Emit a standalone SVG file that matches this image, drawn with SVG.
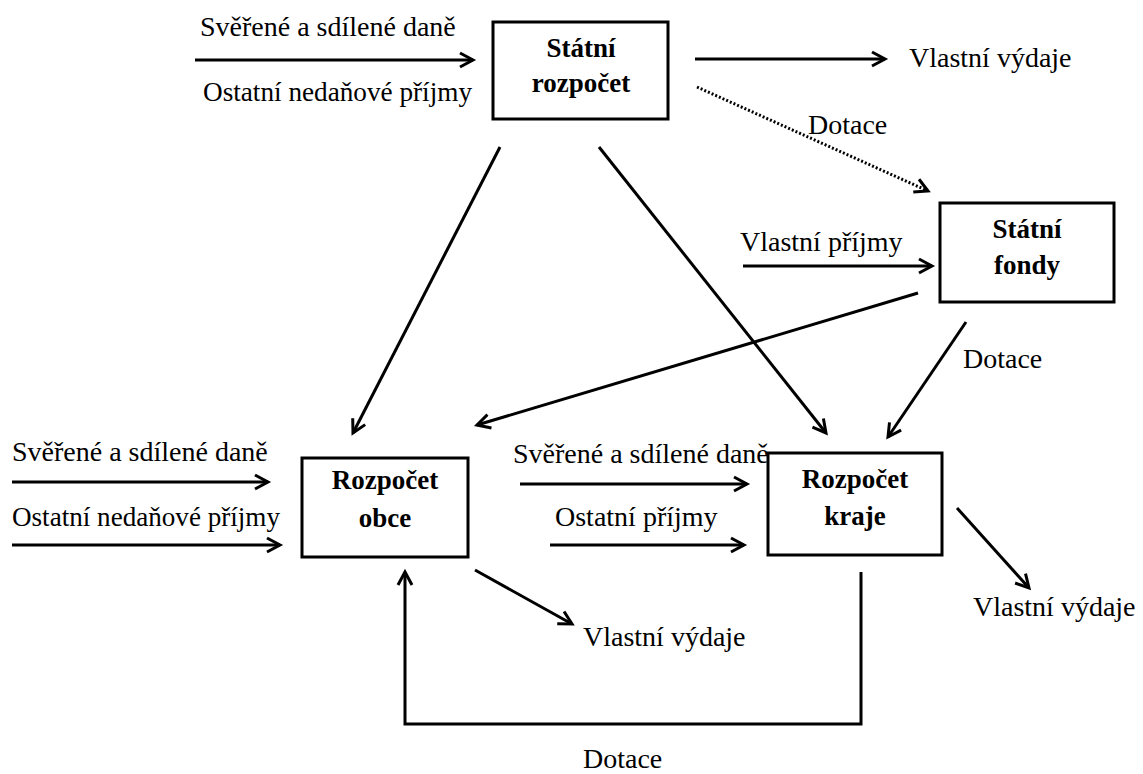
<svg xmlns="http://www.w3.org/2000/svg" width="1143" height="774" viewBox="0 0 1143 774">
<defs>
<marker id="ah" markerUnits="userSpaceOnUse" markerWidth="30" markerHeight="30" viewBox="-15 -15 30 30" refX="0" refY="0" orient="auto">
<path d="M-13,-7 L0,0 L-13,7" fill="none" stroke="#000" stroke-width="3"/>
</marker>
<style>
.t{font-family:'Liberation Serif',serif;font-size:28px;fill:#000}
.b{font-family:'Liberation Serif',serif;font-size:27px;font-weight:bold;fill:#000;text-anchor:middle}
.box{fill:#fff;stroke:#000;stroke-width:3}
.c{fill:none;stroke:#000;stroke-width:3;marker-end:url(#ah)}
.d{fill:none;stroke:#000;stroke-width:3;stroke-dasharray:2 2;marker-end:url(#ah)}
</style>
</defs>
<rect width="1143" height="774" fill="#fff"/>
<g id="connectors">
<line class="c" x1="195" y1="60" x2="473" y2="60"/>
<line class="c" x1="695" y1="59" x2="885" y2="59"/>
<line class="d" x1="697" y1="87" x2="928" y2="191"/>
<line class="c" x1="743" y1="266" x2="932" y2="266"/>
<line class="c" x1="500" y1="147" x2="353" y2="433"/>
<line class="c" x1="599" y1="147" x2="826" y2="433"/>
<line class="c" x1="918" y1="293" x2="477" y2="425"/>
<line class="c" x1="966" y1="322" x2="888" y2="437"/>
<line class="c" x1="12" y1="482" x2="268" y2="482"/>
<line class="c" x1="12" y1="545" x2="280" y2="545"/>
<line class="c" x1="520" y1="484" x2="747" y2="484"/>
<line class="c" x1="550" y1="545" x2="744" y2="545"/>
<line class="c" x1="957" y1="508" x2="1029" y2="588"/>
<line class="c" x1="475" y1="570" x2="572" y2="624"/>
<polyline class="c" points="861,572 861,724 405,724 405,572"/>
</g>
<g id="labels">
<text class="t" x="200" y="36">Svěřené a sdílené daně</text>
<text class="t" x="203" y="101" textLength="269" lengthAdjust="spacingAndGlyphs">Ostatní nedaňové příjmy</text>
<text class="t" x="909" y="67">Vlastní výdaje</text>
<text class="t" x="808" y="134">Dotace</text>
<text class="t" x="740" y="251">Vlastní příjmy</text>
<text class="t" x="963" y="368">Dotace</text>
<text class="t" x="12" y="461">Svěřené a sdílené daně</text>
<text class="t" x="12" y="526" textLength="268" lengthAdjust="spacingAndGlyphs">Ostatní nedaňové příjmy</text>
<text class="t" x="513" y="463">Svěřené a sdílené daně</text>
<text class="t" x="555" y="526">Ostatní příjmy</text>
<text class="t" x="973" y="616">Vlastní výdaje</text>
<text class="t" x="583" y="646">Vlastní výdaje</text>
<text class="t" x="583" y="768">Dotace</text>
</g>
<g id="statni-rozpocet">
<rect class="box" x="493" y="22" width="175" height="97"/>
<text class="b" x="581" y="57">Státní</text>
<text class="b" x="581" y="92">rozpočet</text>
</g>
<g id="statni-fondy">
<rect class="box" x="940" y="203" width="174" height="99"/>
<text class="b" x="1027" y="238">Státní</text>
<text class="b" x="1027" y="274">fondy</text>
</g>
<g id="rozpocet-obce">
<rect class="box" x="302" y="458" width="166" height="99"/>
<text class="b" x="385" y="489">Rozpočet</text>
<text class="b" x="385" y="527">obce</text>
</g>
<g id="rozpocet-kraje">
<rect class="box" x="768" y="453" width="174" height="102"/>
<text class="b" x="855" y="488">Rozpočet</text>
<text class="b" x="855" y="525">kraje</text>
</g>
</svg>
